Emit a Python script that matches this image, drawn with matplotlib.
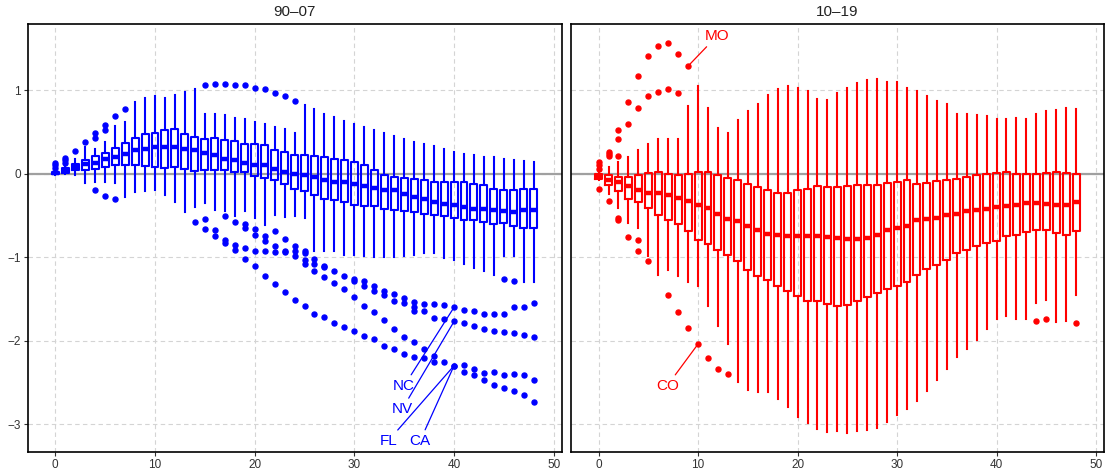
import matplotlib
matplotlib.use("Agg")
import matplotlib.pyplot as plt

plt.rcParams['font.family'] = ['Liberation Sans', 'DejaVu Sans']

HORIZONS = list(range(49))
TITLES = ["90\u201307", "10\u201319"]
COLORS = ["#0000ff", "#ff0000"]

# ---------------- Left panel (90-07) ----------------
L_Q3 = [0.02, 0.07, 0.12, 0.17, 0.21, 0.25, 0.31, 0.37, 0.43, 0.47, 0.49, 0.52, 0.53, 0.48, 0.44, 0.42, 0.43, 0.40, 0.39, 0.36, 0.36, 0.34, 0.29, 0.26, 0.23,
        0.23, 0.21, 0.20, 0.18, 0.16, 0.14, 0.10, 0.04, -0.01, -0.04, -0.05, -0.06, -0.08, -0.10, -0.10, -0.10, -0.10, -0.12, -0.14, -0.18, -0.20, -0.19, -0.18, -0.18]
L_MED = [0.01, 0.04, 0.08, 0.12, 0.13, 0.18, 0.20, 0.24, 0.28, 0.30, 0.32, 0.32, 0.32, 0.30, 0.28, 0.25, 0.23, 0.18, 0.17, 0.13, 0.11, 0.10, 0.06, 0.02, 0.00,
         -0.02, -0.04, -0.08, -0.10, -0.10, -0.12, -0.15, -0.17, -0.19, -0.20, -0.24, -0.28, -0.30, -0.34, -0.36, -0.38, -0.40, -0.42, -0.42, -0.44, -0.45, -0.46, -0.44, -0.44]
L_Q1 = [0.00, 0.01, 0.04, 0.04, 0.06, 0.08, 0.10, 0.11, 0.10, 0.09, 0.08, 0.07, 0.08, 0.06, 0.03, 0.04, 0.04, 0.05, 0.02, 0.02, -0.03, -0.05, -0.08, -0.12, -0.18,
        -0.21, -0.26, -0.30, -0.31, -0.34, -0.38, -0.39, -0.39, -0.42, -0.44, -0.45, -0.46, -0.48, -0.50, -0.51, -0.53, -0.55, -0.56, -0.58, -0.60, -0.59, -0.63, -0.65, -0.65]
L_LO = [-0.01, 0.00, -0.02, -0.11, -0.10, -0.10, -0.11, -0.28, -0.22, -0.21, -0.19, -0.25, -0.34, -0.46, -0.40, -0.35, -0.43, -0.45, -0.51, -0.45, -0.53, -0.61, -0.49, -0.52, -0.51,
        -0.53, -0.92, -0.93, -0.93, -0.97, -0.97, -0.99, -1.00, -1.00, -1.00, -0.99, -0.97, -0.95, -0.95, -1.01, -1.03, -1.08, -1.13, -1.17, -1.21, -0.98, -0.99, -1.30, -1.30]
L_HI = [0.04, 0.10, 0.18, 0.32, 0.30, 0.38, 0.57, 0.62, 0.86, 0.91, 0.93, 0.91, 0.94, 0.98, 1.02, 0.72, 0.71, 0.70, 0.67, 0.65, 0.62, 0.59, 0.56, 0.53, 0.49,
        0.82, 0.78, 0.72, 0.68, 0.63, 0.59, 0.56, 0.52, 0.49, 0.45, 0.42, 0.38, 0.36, 0.33, 0.30, 0.26, 0.24, 0.22, 0.20, 0.20, 0.18, 0.16, 0.15, 0.14]
L_FLIERS = {
    0: [0.07, 0.10, 0.13], 1: [0.13, 0.16, 0.19], 2: [0.27], 3: [0.38],
    4: [0.43, 0.49, -0.20], 5: [0.52, 0.58, -0.27], 6: [0.69, -0.30], 7: [0.78],
    14: [-0.58], 15: [1.06, -0.54, -0.66], 16: [1.08, -0.68, -0.75],
    17: [1.08, -0.51, -0.79, -0.83], 18: [1.06, -0.58, -0.85, -0.91],
    19: [1.06, -0.60, -0.65, -0.89, -1.02], 20: [1.03, -0.66, -0.74, -0.93, -1.11],
    21: [1.02, -0.75, -0.81, -0.93, -1.23], 22: [0.97, -0.69, -0.87, -0.94, -1.32],
    23: [0.93, -0.78, -0.92, -0.94, -1.42], 24: [0.87, -0.87, -0.93, -0.99, -1.51],
    25: [-0.92, -0.95, -1.03, -1.08, -1.58], 26: [-1.02, -1.08, -1.17, -1.68],
    27: [-1.11, -1.12, -1.24, -1.72], 28: [-1.17, -1.31, -1.79],
    29: [-1.22, -1.38, -1.84], 30: [-1.26, -1.28, -1.48, -1.89],
    31: [-1.28, -1.34, -1.58, -1.94], 32: [-1.35, -1.40, -1.66, -1.98],
    33: [-1.40, -1.45, -1.75, -2.06], 34: [-1.44, -1.52, -1.86, -2.10],
    35: [-1.49, -1.55, -1.95, -2.16], 36: [-1.54, -1.60, -1.65, -2.01, -2.20],
    37: [-1.56, -1.65, -2.10, -2.21], 38: [-1.56, -1.73, -2.18, -2.25],
    39: [-1.57, -1.74, -2.26], 40: [-1.60, -1.77, -2.30, -2.30],
    41: [-1.63, -1.79, -2.29, -2.37], 42: [-1.65, -1.82, -2.34, -2.41],
    43: [-1.68, -1.86, -2.39, -2.47], 44: [-1.68, -1.88, -2.37, -2.53],
    45: [-1.26, -1.68, -1.90, -2.41, -2.57], 46: [-1.29, -1.60, -1.91, -2.40, -2.60],
    47: [-1.60, -1.93, -2.41, -2.65], 48: [-1.55, -1.95, -2.47, -2.73],
}
L_LABELS = [("NC", 40, -1.60), ("NV", 40, -1.77), ("FL", 40, -2.30), ("CA", 40, -2.30)]

# ---------------- Right panel (10-19) ----------------
R_Q3 = [0.00, -0.02, -0.04, -0.04, -0.02, 0.01, 0.02, 0.00, -0.01, 0.00, 0.02, 0.02, -0.01, -0.05, -0.08, -0.12, -0.16, -0.20, -0.23, -0.23, -0.19, -0.18, -0.15, -0.16, -0.16,
        -0.15, -0.14, -0.14, -0.13, -0.11, -0.10, -0.08, -0.12, -0.11, -0.09, -0.08, -0.06, -0.04, -0.01, 0.00, 0.01, 0.02, 0.00, 0.00, 0.00, 0.01, 0.02, 0.01, 0.00]
R_MED = [-0.04, -0.07, -0.10, -0.15, -0.20, -0.23, -0.23, -0.25, -0.29, -0.33, -0.38, -0.41, -0.48, -0.54, -0.57, -0.63, -0.68, -0.72, -0.74, -0.75, -0.75, -0.75, -0.75, -0.76, -0.77,
         -0.78, -0.78, -0.77, -0.73, -0.68, -0.65, -0.63, -0.56, -0.54, -0.53, -0.50, -0.48, -0.45, -0.43, -0.42, -0.40, -0.39, -0.38, -0.35, -0.35, -0.36, -0.37, -0.38, -0.34]
R_Q1 = [-0.06, -0.14, -0.21, -0.30, -0.34, -0.41, -0.49, -0.56, -0.60, -0.69, -0.79, -0.84, -0.91, -0.97, -1.05, -1.15, -1.23, -1.27, -1.34, -1.41, -1.47, -1.52, -1.53, -1.56, -1.58,
        -1.57, -1.53, -1.48, -1.43, -1.38, -1.34, -1.30, -1.21, -1.14, -1.09, -1.03, -0.95, -0.91, -0.86, -0.83, -0.80, -0.75, -0.73, -0.70, -0.67, -0.67, -0.71, -0.73, -0.69]
R_LO = [-0.08, -0.24, -0.41, -0.59, -0.65, -0.98, -1.21, -1.15, -1.23, -1.30, -1.35, -1.59, -1.82, -2.04, -2.49, -2.59, -2.62, -2.62, -2.70, -2.80, -2.91, -2.99, -3.06, -3.09, -3.08,
        -3.10, -3.08, -3.07, -3.05, -2.98, -2.89, -2.82, -2.72, -2.60, -2.47, -2.34, -2.20, -2.10, -1.99, -1.86, -1.74, -1.71, -1.74, -1.74, -1.55, -1.51, -1.78, -1.76, -1.45]
R_HI = [0.03, 0.08, 0.14, 0.20, 0.29, 0.36, 0.41, 0.42, 0.42, 0.81, 1.05, 0.79, 0.55, 0.49, 0.64, 0.75, 0.84, 0.94, 1.01, 1.05, 1.03, 0.99, 0.90, 0.88, 0.97,
        1.03, 1.09, 1.12, 1.13, 1.10, 1.10, 1.03, 0.99, 0.93, 0.87, 0.83, 0.72, 0.72, 0.70, 0.69, 0.66, 0.66, 0.67, 0.66, 0.72, 0.75, 0.76, 0.79, 0.77]
R_FLIERS = {
    0: [0.06, 0.10, 0.14, -0.18], 1: [0.21, 0.24, 0.26, -0.33],
    2: [0.21, 0.42, 0.52, -0.53, -0.56], 3: [0.59, 0.86, -0.76],
    4: [0.79, 1.17, -0.79, -0.93], 5: [0.93, 1.41, -1.05], 6: [0.98, 1.53],
    7: [1.02, 1.56, -1.45], 8: [0.97, 1.44, -1.66], 9: [1.29, -1.85],
    10: [-2.04], 11: [-2.21], 12: [-2.34], 13: [-2.40],
    44: [-1.76], 45: [-1.74], 48: [-1.79],
}
R_LABELS = [("MO", 9, 1.29), ("CO", 10, -2.04)]

PANELS = [
    (L_Q1, L_MED, L_Q3, L_LO, L_HI, L_FLIERS, L_LABELS),
    (R_Q1, R_MED, R_Q3, R_LO, R_HI, R_FLIERS, R_LABELS),
]
# label text offsets (layout only)
TEXT_POS = {"NC": (35.0, -2.54), "NV": (34.8, -2.82), "FL": (33.4, -3.20),
            "CA": (36.6, -3.20), "MO": (11.9, 1.65), "CO": (6.9, -2.54)}

fig = plt.figure(figsize=(11.05, 4.75), dpi=100)
axes_rects = [[27.7 / 1105, 23.3 / 475, 534 / 1105, 427.4 / 475],
              [571 / 1105, 23.3 / 475, 533 / 1105, 427.4 / 475]]

for i, (q1, med, q3, lo, hi, fl, labels) in enumerate(PANELS):
    ax = fig.add_axes(axes_rects[i])
    col = COLORS[i]
    stats = []
    for h in HORIZONS:
        stats.append(dict(q1=q1[h], med=med[h], q3=q3[h], whislo=lo[h],
                          whishi=hi[h], fliers=fl.get(h, [])))
    ax.axhline(0, color="#a0a0a0", lw=1.6, zorder=1)
    ax.bxp(stats, positions=HORIZONS, widths=0.7, showcaps=False,
           patch_artist=False, manage_ticks=False,
           boxprops=dict(color=col, lw=1.5),
           whiskerprops=dict(color=col, lw=1.5),
           medianprops=dict(color=col, lw=3.2, solid_capstyle='butt'),
           flierprops=dict(marker='o', markerfacecolor=col, markeredgecolor=col,
                           markersize=3.6, linestyle='none'))
    for name, hx, hy in labels:
        ax.annotate(name, xy=(hx, hy), xytext=TEXT_POS[name], textcoords='data',
                    ha='center', va='center', color=col, fontsize=11,
                    arrowprops=dict(arrowstyle='-', color=col, lw=0.9,
                                    shrinkA=1, shrinkB=0))
    ax.set_xlim(-2.77, 50.8)
    ax.set_ylim(-3.33, 1.79)
    ax.set_xticks([0, 10, 20, 30, 40, 50])
    ax.set_yticks([-3, -2, -1, 0, 1])
    ax.grid(True, color="#d4d4d4", lw=0.8, linestyle=(0, (4, 3)), zorder=0)
    ax.set_axisbelow(True)
    ax.tick_params(axis='both', labelsize=8.5, length=3, width=0.8,
                   colors='#333333', labelcolor='#333333', pad=2)
    if i == 1:
        ax.tick_params(axis='y', labelleft=False, length=0)
    for s in ax.spines.values():
        s.set_color('black')
        s.set_linewidth(1.2)
    ax.set_title(TITLES[i], fontsize=11, color='#222222', pad=6)

fig.savefig("out.png", dpi=100)
